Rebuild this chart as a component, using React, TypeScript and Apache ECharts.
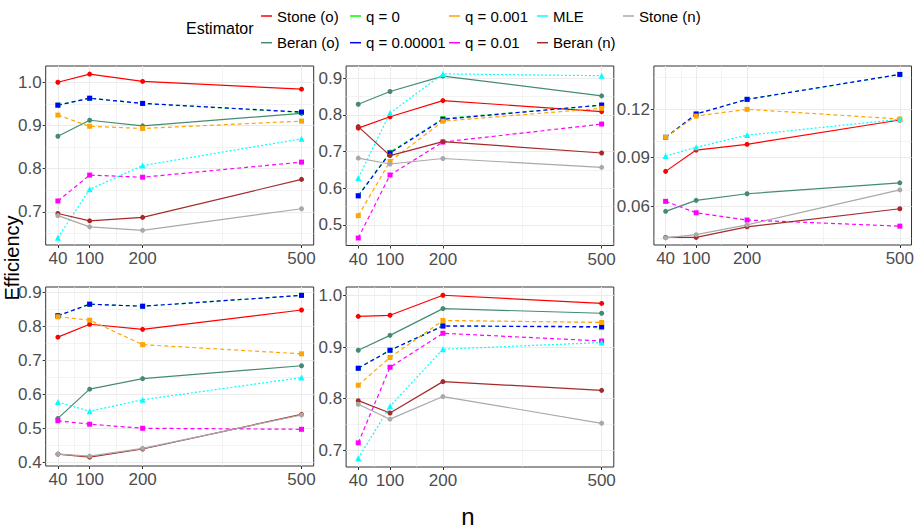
import React, { useEffect, useRef } from "react";
import * as echarts from "echarts";

// Sample sizes (x positions) and tick labels
const nValues = [40, 100, 200, 500];
const xMinorBreaks = [70, 150, 350];

// Efficiency values: one array per estimator, one row per panel (5 panels), columns = n
const stoneO = [
  [1.0, 1.019, 1.002, 0.984],
  [0.764, 0.795, 0.839, 0.809],
  [0.0815, 0.0947, 0.0983, 0.1134],
  [0.768, 0.806, 0.791, 0.848],
  [0.96, 0.962, 1.001, 0.985],
];
const beranO = [
  [0.875, 0.912, 0.899, 0.928],
  [0.829, 0.864, 0.906, 0.852],
  [0.0567, 0.0635, 0.0676, 0.0744],
  [0.529, 0.615, 0.646, 0.684],
  [0.894, 0.923, 0.975, 0.966],
];
const q0 = [
  [0.947, 0.963, 0.951, 0.93],
  [0.58, 0.698, 0.79, 0.826],
  [0.1026, 0.1171, 0.1262, 0.1416],
  [0.831, 0.865, 0.859, 0.891],
  [0.859, 0.894, 0.942, 0.938],
];
const q00001 = [
  [0.947, 0.963, 0.951, 0.931],
  [0.579, 0.696, 0.788, 0.827],
  [0.1026, 0.1171, 0.1262, 0.1417],
  [0.831, 0.865, 0.859, 0.891],
  [0.859, 0.894, 0.941, 0.94],
];
const q001 = [
  [0.924, 0.898, 0.893, 0.91],
  [0.525, 0.673, 0.783, 0.818],
  [0.1026, 0.1158, 0.12, 0.114],
  [0.828, 0.818, 0.746, 0.719],
  [0.826, 0.88, 0.952, 0.948],
];
const q01 = [
  [0.725, 0.785, 0.78, 0.815],
  [0.464, 0.636, 0.726, 0.775],
  [0.0629, 0.0558, 0.0513, 0.0475],
  [0.522, 0.512, 0.5, 0.497],
  [0.714, 0.861, 0.927, 0.912],
];
const mle = [
  [0.64, 0.752, 0.807, 0.869],
  [0.628, 0.805, 0.912, 0.907],
  [0.091, 0.0964, 0.104, 0.1138],
  [0.577, 0.55, 0.584, 0.649],
  [0.684, 0.785, 0.896, 0.909],
];
const beranN = [
  [0.696, 0.679, 0.687, 0.775],
  [0.768, 0.689, 0.727, 0.696],
  [0.0405, 0.0405, 0.0471, 0.0583],
  [0.424, 0.415, 0.439, 0.541],
  [0.796, 0.772, 0.833, 0.816],
];
const stoneN = [
  [0.691, 0.665, 0.657, 0.707],
  [0.682, 0.666, 0.681, 0.657],
  [0.0402, 0.0422, 0.0483, 0.07],
  [0.424, 0.418, 0.441, 0.539],
  [0.789, 0.76, 0.804, 0.752],
];

// Y-axis ranges, breaks per panel
const yMins = [0.623, 0.4436, 0.0358, 0.389, 0.667];
const yMaxs = [1.0377, 0.9335, 0.1469, 0.9156, 1.017];
const yBreaks = [
  [0.7, 0.8, 0.9, 1.0],
  [0.5, 0.6, 0.7, 0.8, 0.9],
  [0.06, 0.09, 0.12],
  [0.4, 0.5, 0.6, 0.7, 0.8, 0.9],
  [0.7, 0.8, 0.9, 1.0],
];
const yMinorBreaks = [
  [0.65, 0.75, 0.85, 0.95],
  [0.45, 0.55, 0.65, 0.75, 0.85],
  [0.045, 0.075, 0.105, 0.135],
  [0.45, 0.55, 0.65, 0.75, 0.85],
  [0.75, 0.85, 0.95],
];
const yDecimals = [1, 1, 2, 1, 1];

const estimators = [
  { name: "Stone (o)", data: stoneO, color: "#FF0000", line: "solid", symbol: "circle" },
  { name: "Beran (o)", data: beranO, color: "#458B74", line: "solid", symbol: "circle" },
  { name: "q = 0", data: q0, color: "#00FF00", line: "dashed", symbol: "rect" },
  { name: "q = 0.00001", data: q00001, color: "#0000FF", line: "dashed", symbol: "rect" },
  { name: "q = 0.001", data: q001, color: "#FFA500", line: "dashed", symbol: "rect" },
  { name: "q = 0.01", data: q01, color: "#FF00FF", line: "dashed", symbol: "rect" },
  { name: "MLE", data: mle, color: "#00FFFF", line: "dotted", symbol: "triangle" },
  { name: "Beran (n)", data: beranN, color: "#A52A2A", line: "solid", symbol: "circle" },
  { name: "Stone (n)", data: stoneN, color: "#A9A9A9", line: "solid", symbol: "circle" },
];

const legendColumns = [
  ["Stone (o)", "Beran (o)"],
  ["q = 0", "q = 0.00001"],
  ["q = 0.001", "q = 0.01"],
  ["MLE", "Beran (n)"],
  ["Stone (n)"],
];
const legendLefts = [256, 345, 444, 532, 618];

const grids = [
  { left: 45.7, top: 66, width: 268, height: 179 },
  { left: 346.1, top: 66, width: 267.7, height: 179.5 },
  { left: 653.9, top: 66, width: 260.3, height: 179 },
  { left: 45.7, top: 287, width: 268, height: 179 },
  { left: 346.1, top: 287, width: 267.7, height: 180 },
];

const FONT = "'Liberation Sans', Arial, Helvetica, sans-serif";
const GRID_COLOR = "#EBEBEB";

export default function App() {
  const ref = useRef<HTMLDivElement>(null);

  useEffect(() => {
    if (!ref.current) return;
    const chart = echarts.init(ref.current, null, { renderer: "svg" });

    const xAxes = grids.map((_, i) => ({
      type: "value",
      gridIndex: i,
      min: 17,
      max: 523,
      axisLine: { show: false },
      splitLine: { show: false },
      axisTick: {
        show: true,
        length: 3,
        customValues: nValues,
        lineStyle: { color: "#333333", width: 1 },
      },
      axisLabel: {
        customValues: nValues,
        margin: 5,
        color: "#4D4D4D",
        fontSize: 17,
        fontFamily: FONT,
        formatter: (v: number) => String(v),
      },
    }));

    const yAxes = grids.map((_, i) => ({
      type: "value",
      gridIndex: i,
      min: yMins[i],
      max: yMaxs[i],
      axisLine: { show: false },
      splitLine: { show: false },
      axisTick: {
        show: true,
        length: 3,
        customValues: yBreaks[i],
        lineStyle: { color: "#333333", width: 1 },
      },
      axisLabel: {
        customValues: yBreaks[i],
        margin: 4,
        color: "#4D4D4D",
        fontSize: 17,
        fontFamily: FONT,
        formatter: (v: number) => v.toFixed(yDecimals[i]),
      },
    }));

    const series: any[] = [];
    grids.forEach((_, i) => {
      const lines: any[] = [];
      nValues.forEach((v) => lines.push({ xAxis: v, lineStyle: { width: 1 } }));
      xMinorBreaks.forEach((v) => lines.push({ xAxis: v, lineStyle: { width: 0.6 } }));
      yBreaks[i].forEach((v) => lines.push({ yAxis: v, lineStyle: { width: 1 } }));
      yMinorBreaks[i].forEach((v) => lines.push({ yAxis: v, lineStyle: { width: 0.6 } }));
      series.push({
        type: "line",
        name: "grid" + i,
        xAxisIndex: i,
        yAxisIndex: i,
        data: [],
        silent: true,
        z: 1,
        markLine: {
          silent: true,
          z: 1,
          symbol: ["none", "none"],
          label: { show: false },
          emphasis: { disabled: true },
          lineStyle: { color: GRID_COLOR, type: "solid" },
          data: lines,
        },
      });
    });

    estimators.forEach((est) => {
      grids.forEach((_, i) => {
        series.push({
          type: "line",
          name: est.name,
          xAxisIndex: i,
          yAxisIndex: i,
          z: 3,
          data: nValues.map((n, k) => [n, est.data[i][k]]),
          symbol: est.symbol,
          symbolSize: est.symbol === "triangle" ? 6 : 5,
          showSymbol: true,
          lineStyle: {
            color: est.color,
            width: 1.2,
            type: est.line === "dotted" ? [2, 2] : est.line === "dashed" ? [4, 3] : "solid",
          },
          itemStyle: { color: est.color },
          emphasis: { disabled: true },
        });
      });
    });

    const legends = legendColumns.map((col, c) => ({
      orient: "vertical",
      left: legendLefts[c],
      top: 2,
      itemGap: 8.7,
      itemWidth: 11,
      itemHeight: 1.5,
      icon: "rect",
      selectedMode: false,
      data: col,
      textStyle: { fontSize: 15, color: "#000000", fontFamily: FONT, lineHeight: 18 },
    }));

    chart.setOption({
      animation: false,
      backgroundColor: "#FFFFFF",
      grid: grids.map((g) => ({
        ...g,
        show: true,
        borderColor: "#333333",
        borderWidth: 1,
        backgroundColor: "#FFFFFF",
        containLabel: false,
      })),
      xAxis: xAxes,
      yAxis: yAxes,
      legend: legends,
      series,
      graphic: [
        {
          type: "text",
          x: 186,
          y: 28,
          style: {
            text: "Estimator",
            fontSize: 16,
            fill: "#000000",
            fontFamily: FONT,
            textAlign: "left",
            textVerticalAlign: "middle",
          },
        },
        {
          type: "text",
          x: 12,
          y: 258,
          rotation: Math.PI / 2,
          style: {
            text: "Efficiency",
            fontSize: 20,
            fill: "#000000",
            fontFamily: FONT,
            textAlign: "center",
            textVerticalAlign: "middle",
          },
        },
        {
          type: "text",
          x: 468,
          y: 516,
          style: {
            text: "n",
            fontSize: 24,
            fill: "#000000",
            fontFamily: FONT,
            textAlign: "center",
            textVerticalAlign: "middle",
          },
        },
      ],
    });

    return () => chart.dispose();
  }, []);

  return (
    <div
      ref={ref}
      style={{ position: "fixed", left: 0, top: 0, width: 917, height: 531, background: "#fff" }}
    />
  );
}
